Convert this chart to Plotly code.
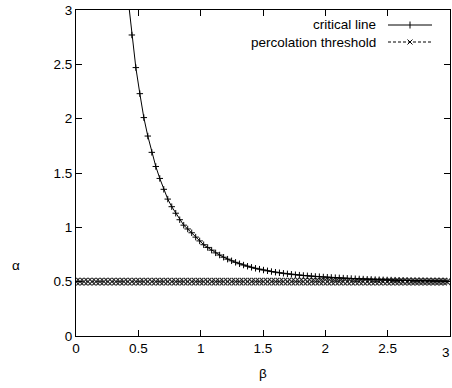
import plotly.graph_objects as go

# ---- data ----
perc_beta = [0, 0.032, 0.064, 0.096, 0.128, 0.16, 0.192, 0.224, 0.256, 0.288,
             0.32, 0.352, 0.384, 0.416, 0.448, 0.48, 0.512, 0.544, 0.576, 0.608,
             0.64, 0.672, 0.704, 0.736, 0.768, 0.8, 0.832, 0.864, 0.896, 0.928,
             0.96, 0.992, 1.024, 1.056, 1.088, 1.12, 1.152, 1.184, 1.216, 1.248,
             1.28, 1.312, 1.344, 1.376, 1.408, 1.44, 1.472, 1.504, 1.536, 1.568,
             1.6, 1.632, 1.664, 1.696, 1.728, 1.76, 1.792, 1.824, 1.856, 1.888,
             1.92, 1.952, 1.984, 2.016, 2.048, 2.08, 2.112, 2.144, 2.176, 2.208,
             2.24, 2.272, 2.304, 2.336, 2.368, 2.4, 2.432, 2.464, 2.496, 2.528,
             2.56, 2.592, 2.624, 2.656, 2.688, 2.72, 2.752, 2.784, 2.816, 2.848,
             2.88, 2.912, 2.944, 2.976]
perc_alpha = [0.5] * len(perc_beta)

crit_beta = [0.416, 0.448, 0.48, 0.512, 0.544, 0.576, 0.608,
             0.64, 0.672, 0.704, 0.736, 0.768, 0.8, 0.832, 0.864, 0.896, 0.928,
             0.96, 0.992, 1.024, 1.056, 1.088, 1.12, 1.152, 1.184, 1.216, 1.248,
             1.28, 1.312, 1.344, 1.376, 1.408, 1.44, 1.472, 1.504, 1.536, 1.568,
             1.6, 1.632, 1.664, 1.696, 1.728, 1.76, 1.792, 1.824, 1.856, 1.888,
             1.92, 1.952, 1.984, 2.016, 2.048, 2.08, 2.112, 2.144, 2.176, 2.208,
             2.24, 2.272, 2.304, 2.336, 2.368, 2.4, 2.432, 2.464, 2.496, 2.528,
             2.56, 2.592, 2.624, 2.656, 2.688, 2.72, 2.752, 2.784, 2.816, 2.848,
             2.88, 2.912, 2.944, 2.976]
crit_alpha = [3.12, 2.77, 2.47, 2.23, 2.01, 1.84, 1.69, 1.56, 1.45, 1.35,
              1.26, 1.19, 1.13, 1.07, 1.02, 0.985, 0.95, 0.91, 0.875, 0.84,
              0.815, 0.79, 0.765, 0.745, 0.725, 0.707, 0.692, 0.678, 0.665, 0.653,
              0.642, 0.632, 0.623, 0.615, 0.607, 0.600, 0.593, 0.587, 0.582, 0.577,
              0.572, 0.568, 0.564, 0.560, 0.557, 0.554, 0.551, 0.548, 0.546, 0.543,
              0.541, 0.539, 0.537, 0.535, 0.533, 0.531, 0.529, 0.527, 0.525, 0.524,
              0.522, 0.521, 0.519, 0.518, 0.517, 0.516, 0.515, 0.514, 0.513, 0.512,
              0.511, 0.510, 0.509, 0.509, 0.508, 0.507, 0.507, 0.506, 0.506, 0.505,
              0.505]

tick_vals = [0, 0.5, 1, 1.5, 2, 2.5, 3]
tick_text = ["0", "0.5", "1", "1.5", "2", "2.5", "3"]
series_names = ["critical line", "percolation threshold"]

FONT = "Liberation Sans, Arial, Helvetica, sans-serif"
FS = 13.5

fig = go.Figure()
fig.add_trace(go.Scatter(
    x=perc_beta, y=perc_alpha, mode="lines+markers", name=series_names[1],
    line=dict(color="black", width=1, dash="3px,2px"),
    marker=dict(symbol="x-thin", size=7.5, line=dict(color="#222222", width=1.1)),
    showlegend=False, hoverinfo="skip"))
fig.add_trace(go.Scatter(
    x=crit_beta, y=crit_alpha, mode="lines+markers", name=series_names[0],
    line=dict(color="black", width=1),
    marker=dict(symbol="cross-thin", size=4.6, line=dict(color="black", width=1)),
    showlegend=False, hoverinfo="skip"))

axis_common = dict(
    range=[0, 3], tickvals=tick_vals, ticktext=tick_text,
    ticks="inside", ticklen=6, tickcolor="black", tickwidth=1,
    showline=True, linecolor="black", linewidth=1, mirror="ticks",
    showgrid=False, zeroline=False, automargin=False,
    tickfont=dict(family=FONT, size=FS, color="black"),
)
fig.update_xaxes(**axis_common)
fig.update_yaxes(**axis_common)

# plot area in pixels: x 76..450, y 10..336
W, H = 374.0, 326.0
def px(x):
    return (x - 76) / W
def py(y):
    return (336 - y) / H

annotations = [
    dict(text="α", x=16, y=265),
    dict(text="β", x=263, y=373),
]
ann = []
for a in annotations:
    ann.append(dict(text=a["text"], xref="paper", yref="paper",
                    x=px(a["x"]), y=py(a["y"]), xanchor="center", yanchor="middle",
                    showarrow=False, font=dict(family=FONT, size=FS, color="black")))

# last x tick label (plotly drops it because it runs off the page edge);
# kept fully inside the page, right against its edge
ann.append(dict(text=tick_text[-1], xref="paper", yref="paper", x=px(452), y=py(352),
                xanchor="right", yanchor="middle", showarrow=False,
                font=dict(family=FONT, size=FS, color="black")))

# gnuplot-style key: text right-aligned, sample to its right
key_rows = [(series_names[0], 25, "solid", "+"), (series_names[1], 42, "3px,2px", "x")]
shapes = []
for name, ypix, dash, sym in key_rows:
    ann.append(dict(text=name, xref="paper", yref="paper", x=px(378), y=py(ypix),
                    xanchor="right", yanchor="middle", showarrow=False,
                    font=dict(family=FONT, size=FS, color="black")))
    shapes.append(dict(type="line", xref="paper", yref="paper",
                       x0=px(388), x1=px(432), y0=py(ypix), y1=py(ypix),
                       line=dict(color="black", width=1, dash=dash)))
    if sym == "+":
        shapes.append(dict(type="line", xref="paper", yref="paper",
                           x0=px(410), x1=px(410), y0=py(ypix - 3.5), y1=py(ypix + 3.5),
                           line=dict(color="black", width=1)))
    else:
        shapes.append(dict(type="line", xref="paper", yref="paper",
                           x0=px(407.5), x1=px(412.5), y0=py(ypix - 2.5), y1=py(ypix + 2.5),
                           line=dict(color="black", width=1)))
        shapes.append(dict(type="line", xref="paper", yref="paper",
                           x0=px(407.5), x1=px(412.5), y0=py(ypix + 2.5), y1=py(ypix - 2.5),
                           line=dict(color="black", width=1)))

fig.update_layout(
    width=452, height=388,
    margin=dict(l=76, r=2, t=10, b=52, autoexpand=False),
    paper_bgcolor="white", plot_bgcolor="white",
    template="none",
    showlegend=False,
    hovermode=False,
    annotations=ann, shapes=shapes,
    font=dict(family=FONT, size=FS, color="black"),
)

fig.write_html("out.html",
               config={"displayModeBar": False, "staticPlot": True},
               post_script="document.body.style.margin='0';document.body.style.padding='0';")
